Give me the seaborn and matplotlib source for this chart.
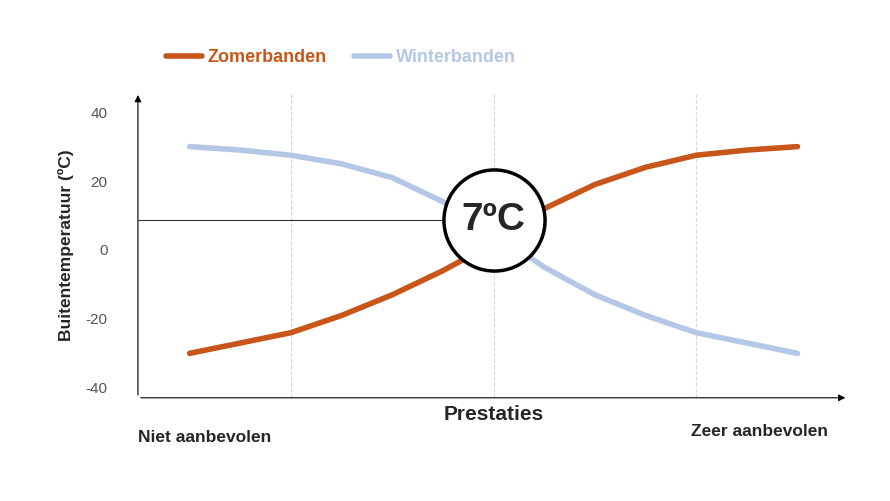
import matplotlib
matplotlib.use("Agg")
import matplotlib.pyplot as plt
import seaborn as sns
import pandas as pd

x = [0, 0.5, 1, 1.5, 2, 2.5, 3, 3.5, 4, 4.5, 5, 5.5, 6]
zomer = [-30, -27, -24, -19, -13, -6, 2, 12, 19, 24, 27.5, 29, 30]
winter = [30, 29, 27.5, 25, 21, 14, 5, -5, -13, -19, -24, -27, -30]
yticks = [-40, -20, 0, 20, 40]
grid_x = [1, 3, 5]
ref_temp = 8.7

sns.set_style("white")
plt.rcParams['font.family'] = ['Liberation Sans', 'DejaVu Sans']
fig = plt.figure(figsize=(8.9, 5.01), dpi=100)
ax = fig.add_axes([0.155, 0.206, 0.798, 0.61])
df = pd.DataFrame({"x": x + x, "y": zomer + winter,
                   "s": ["Zomerbanden"] * len(x) + ["Winterbanden"] * len(x)})
for gx in grid_x:
    ax.axvline(gx, color="#d8d8d8", lw=0.8, ls="--", zorder=0)
sns.lineplot(data=df, x="x", y="y", hue="s", palette={"Zomerbanden": "#C8561A", "Winterbanden": "#B4C7E7"},
             lw=4, ax=ax, legend=False, zorder=2, solid_capstyle="round", solid_joinstyle="round")
ax.set_xlim(-0.51, 6.5)
ax.set_ylim(-42.9, 45.8)
ax.plot([-0.51, 2.5], [ref_temp, ref_temp], color="#333", lw=0.8, zorder=1)
ax.scatter([3], [ref_temp], s=5300, facecolor="white", edgecolor="black", linewidth=2.5, zorder=5)
ax.text(3, ref_temp, "7ºC", ha="center", va="center", fontsize=28, fontweight="bold", zorder=6)
for s in ax.spines.values():
    s.set_visible(False)
ax.annotate("", xy=(0, 1), xytext=(0, 0), xycoords="axes fraction",
            arrowprops=dict(arrowstyle="-|>", color="black", lw=0.8))
ax.annotate("", xy=(1, 0), xytext=(0, 0), xycoords="axes fraction",
            arrowprops=dict(arrowstyle="-|>", color="black", lw=0.8))
ax.set_yticks(yticks)
ax.set_yticklabels([str(v) for v in yticks], color="#555", fontsize=11)
ax.tick_params(axis="y", length=0, pad=22)
ax.set_xticks([])
ax.set_xlabel("")
ax.set_ylabel("Buitentemperatuur (ºC)", fontsize=12.5, fontweight="bold", labelpad=8)
fig.text(494/890, 1-415/501, "Prestaties", ha="center", va="center", fontsize=15, fontweight="bold")
fig.text(138/890, 1-437/501, "Niet aanbevolen", ha="left", va="center", fontsize=12.5, fontweight="bold")
fig.text(828/890, 1-431/501, "Zeer aanbevolen", ha="right", va="center", fontsize=12.5, fontweight="bold")
from matplotlib.lines import Line2D
h = [Line2D([], [], color="#C8561A", lw=4, solid_capstyle="round"),
     Line2D([], [], color="#B4C7E7", lw=4, solid_capstyle="round")]
leg = fig.legend(h, ["Zomerbanden", "Winterbanden"], loc="center left", bbox_to_anchor=(150/890, 1-58/501),
                 ncol=2, frameon=False, handlelength=2, columnspacing=1.5, handletextpad=0.3,
                 prop={"weight": "bold", "size": 13})
for t, c in zip(leg.get_texts(), ["#C8561A", "#B4C7E7"]):
    t.set_color(c)
fig.savefig("out.png", dpi=100)
